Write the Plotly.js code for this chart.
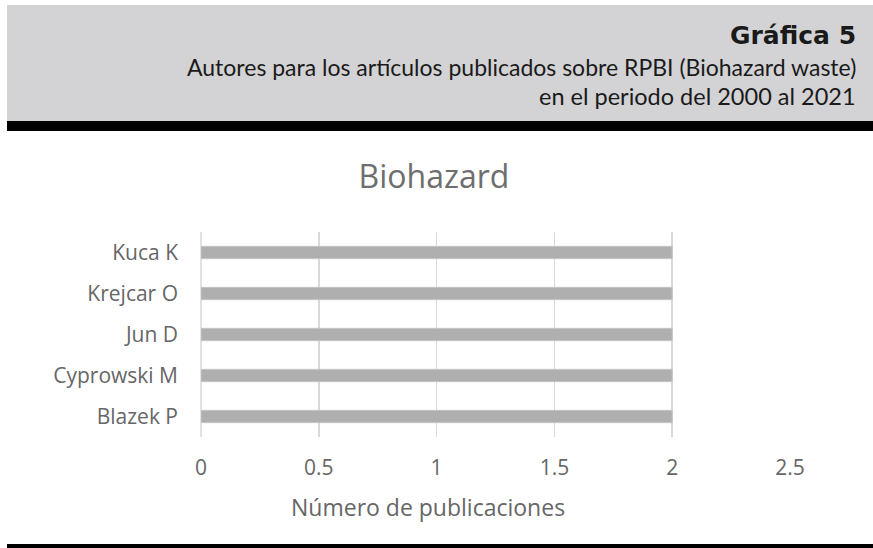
<!DOCTYPE html>
<html>
<head>
<meta charset="utf-8">
<script src="https://cdn.plot.ly/plotly-3.0.1.min.js"></script>
<style>html,body{margin:0;padding:0;background:#fff;}#chart{width:873px;height:548px;}</style>
</head>
<body>
<div id="chart"></div>
<script>
// Data
const authors = ["Blazek P", "Cyprowski M", "Jun D", "Krejcar O", "Kuca K"];
const publications = [2, 2, 2, 2, 2];
const xTickValues = [0, 0.5, 1, 1.5, 2, 2.5];
const chartTitle = "Biohazard";
const xAxisTitle = "Número de publicaciones";
const headerTitle = "Gráfica 5";
const headerLine1 = "Autores para los artículos publicados sobre RPBI (Biohazard waste)";
const headerLine2 = "en el periodo del 2000 al 2021";

// Layout geometry (pixels)
const W = 873, H = 548;
const L = 201, R = 790, T = 232, B = 437;
const px = x => (x - L) / (R - L);
const py = y => (B - y) / (B - T);

const trace = {
  type: "bar",
  orientation: "h",
  y: authors,
  x: publications,
  marker: {color: "#afafaf", line: {color: "#c4c4c4", width: 1}},
  hoverinfo: "x+y"
};

const layout = {
  width: W, height: H,
  margin: {l: L, r: W - R, t: T, b: H - B, pad: 0},
  paper_bgcolor: "#ffffff",
  plot_bgcolor: "#ffffff",
  showlegend: false,
  bargap: 0.7,
  font: {family: "Open Sans, sans-serif", color: "#666666"},
  title: {
    text: chartTitle,
    font: {size: 32, color: "#6e6e6e", family: "Open Sans, sans-serif"},
    xref: "container", yref: "container",
    x: 434 / W, xanchor: "center",
    y: 1 - 177 / H, yanchor: "middle"
  },
  xaxis: {
    range: [0, 2.5],
    tickvals: xTickValues,
    ticktext: xTickValues.map(v => String(v)),
    showgrid: true,
    gridcolor: "#d9d9d9",
    gridwidth: 1.5,
    zeroline: false,
    showline: false,
    ticks: "",
    ticklabelstandoff: 16,
    tickfont: {size: 21, color: "#666666", family: "Open Sans, sans-serif"},
    fixedrange: true
  },
  yaxis: {
    type: "category",
    categoryorder: "array",
    categoryarray: authors,
    range: [-0.5, 4.5],
    showgrid: false,
    zeroline: false,
    showline: false,
    ticks: "",
    ticklabelstandoff: 22,
    tickfont: {size: 21, color: "#666666", family: "Open Sans, sans-serif"},
    fixedrange: true
  },
  shapes: [
    {type: "rect", xref: "paper", yref: "paper", x0: px(7), x1: px(W), y0: py(121), y1: py(5),
     fillcolor: "#d3d3d5", line: {width: 0}, layer: "below"},
    {type: "rect", xref: "paper", yref: "paper", x0: px(7), x1: px(W), y0: py(131), y1: py(121),
     fillcolor: "#000000", line: {width: 0}, layer: "below"},
    {type: "rect", xref: "paper", yref: "paper", x0: px(7), x1: px(W), y0: py(H), y1: py(544),
     fillcolor: "#000000", line: {width: 0}, layer: "below"},
    {type: "line", xref: "paper", yref: "paper", x0: 0, x1: 0, y0: 0, y1: 1,
     line: {color: "#d9d9d9", width: 1.5}, layer: "below"}
  ],
  annotations: [
    {text: "<b>" + headerTitle + "</b>", xref: "paper", yref: "paper", x: px(858), y: py(35),
     xanchor: "right", yanchor: "middle", showarrow: false,
     font: {family: "DejaVu Sans, sans-serif", size: 25, color: "#1a1a1a"}},
    {text: headerLine1, xref: "paper", yref: "paper", x: px(858), y: py(67),
     xanchor: "right", yanchor: "middle", showarrow: false,
     font: {family: "Lato, sans-serif", size: 23, color: "#1a1a1a"}},
    {text: headerLine2, xref: "paper", yref: "paper", x: px(858), y: py(96),
     xanchor: "right", yanchor: "middle", showarrow: false,
     font: {family: "Lato, sans-serif", size: 23.5, color: "#1a1a1a"}},
    {text: xAxisTitle, xref: "paper", yref: "paper", x: px(428), y: py(507),
     xanchor: "center", yanchor: "middle", showarrow: false,
     font: {family: "Open Sans, sans-serif", size: 23, color: "#666666"}}
  ]
};

Plotly.newPlot("chart", [trace], layout, {displayModeBar: false, staticPlot: true});
</script>
</body>
</html>
